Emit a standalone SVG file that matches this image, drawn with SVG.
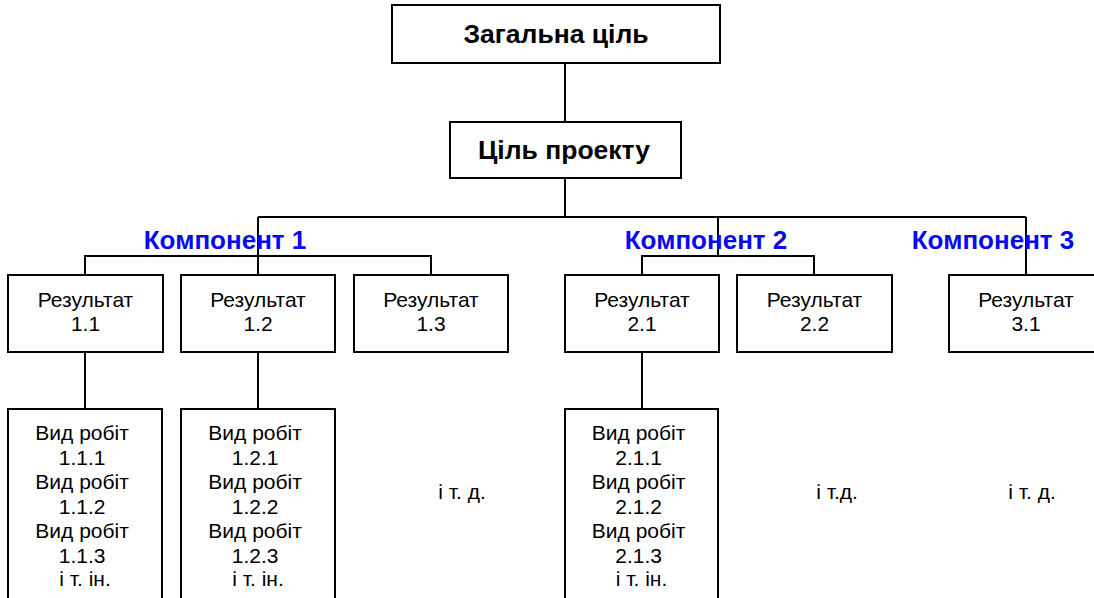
<svg xmlns="http://www.w3.org/2000/svg" width="1094" height="598" viewBox="0 0 1094 598">
  <style>
    .box { fill: #ffffff; stroke: #000000; stroke-width: 2; }
    .wire { fill: none; stroke: #000000; stroke-width: 2; }
    text { font-family: "Liberation Sans", Arial, sans-serif; fill: #000000; text-anchor: middle; }
    .head { font-size: 26.5px; font-weight: bold; }
    .comp { font-size: 26px; font-weight: bold; fill: #0A0AF0; }
    .res { font-size: 21px; }
    .etc { font-size: 21px; }
  </style>

  <!-- connectors -->
  <g id="connectors">
    <path class="wire" d="M565 63 V122"/>
    <path class="wire" d="M565 178 V217"/>
    <path class="wire" d="M258 217 H1026"/>
    <path class="wire" d="M258 217 V275"/>
    <path class="wire" d="M718 217 V256"/>
    <path class="wire" d="M1026 217 V275"/>
    <path class="wire" d="M85 275 V256 H431 V275"/>
    <path class="wire" d="M642 275 V256 H814 V275"/>
    <path class="wire" d="M85 352 V409"/>
    <path class="wire" d="M258 352 V409"/>
    <path class="wire" d="M642 352 V409"/>
  </g>

  <g id="goal">
    <rect class="box" x="392" y="5" width="328" height="58"/>
    <text class="head" x="556" y="43">Загальна ціль</text>
  </g>

  <g id="project">
    <rect class="box" x="450" y="122" width="231" height="56"/>
    <text class="head" x="564" y="159">Ціль проекту</text>
  </g>

  <!-- component labels -->
  <g id="component-1"><text class="comp" x="225" y="249">Компонент 1</text></g>
  <g id="component-2"><text class="comp" x="706" y="249">Компонент 2</text></g>
  <g id="component-3"><text class="comp" x="993" y="249">Компонент 3</text></g>

  <!-- results -->
  <g id="result-1-1">
    <rect class="box" x="8" y="275" width="155" height="77"/>
    <text class="res" x="85.5" y="307">Результат</text>
    <text class="res" x="85.5" y="331">1.1</text>
  </g>
  <g id="result-1-2">
    <rect class="box" x="181" y="275" width="154" height="77"/>
    <text class="res" x="258" y="307">Результат</text>
    <text class="res" x="258" y="331">1.2</text>
  </g>
  <g id="result-1-3">
    <rect class="box" x="354" y="275" width="154" height="77"/>
    <text class="res" x="431" y="307">Результат</text>
    <text class="res" x="431" y="331">1.3</text>
  </g>
  <g id="result-2-1">
    <rect class="box" x="565" y="275" width="154" height="77"/>
    <text class="res" x="642" y="307">Результат</text>
    <text class="res" x="642" y="331">2.1</text>
  </g>
  <g id="result-2-2">
    <rect class="box" x="737" y="275" width="155" height="77"/>
    <text class="res" x="814.5" y="307">Результат</text>
    <text class="res" x="814.5" y="331">2.2</text>
  </g>
  <g id="result-3-1">
    <rect class="box" x="949" y="275" width="155" height="77"/>
    <text class="res" x="1026" y="307">Результат</text>
    <text class="res" x="1026" y="331">3.1</text>
  </g>

  <!-- work lists -->
  <g id="works-1-1">
    <rect class="box" x="8" y="409" width="154" height="210"/>
    <text class="res" x="85">
      <tspan x="85" y="440">Вид робіт</tspan>
      <tspan x="85" y="464.5">1.1.1</tspan>
      <tspan x="85" y="489">Вид робіт</tspan>
      <tspan x="85" y="513.5">1.1.2</tspan>
      <tspan x="85" y="538">Вид робіт</tspan>
      <tspan x="85" y="562.5">1.1.3</tspan>
      <tspan x="85" y="586">і т. ін.</tspan>
    </text>
  </g>
  <g id="works-1-2">
    <rect class="box" x="181" y="409" width="154" height="210"/>
    <text class="res" x="258">
      <tspan x="258" y="440">Вид робіт</tspan>
      <tspan x="258" y="464.5">1.2.1</tspan>
      <tspan x="258" y="489">Вид робіт</tspan>
      <tspan x="258" y="513.5">1.2.2</tspan>
      <tspan x="258" y="538">Вид робіт</tspan>
      <tspan x="258" y="562.5">1.2.3</tspan>
      <tspan x="258" y="586">і т. ін.</tspan>
    </text>
  </g>
  <g id="works-2-1">
    <rect class="box" x="565" y="409" width="153" height="210"/>
    <text class="res" x="641.5">
      <tspan x="641.5" y="440">Вид робіт</tspan>
      <tspan x="641.5" y="464.5">2.1.1</tspan>
      <tspan x="641.5" y="489">Вид робіт</tspan>
      <tspan x="641.5" y="513.5">2.1.2</tspan>
      <tspan x="641.5" y="538">Вид робіт</tspan>
      <tspan x="641.5" y="562.5">2.1.3</tspan>
      <tspan x="641.5" y="586">і т. ін.</tspan>
    </text>
  </g>

  <g id="etc-1-3"><text class="etc" x="462" y="499">і т. д.</text></g>
  <g id="etc-2-2"><text class="etc" x="837" y="499">і т.д.</text></g>
  <g id="etc-3-1"><text class="etc" x="1032" y="499">і т. д.</text></g>
</svg>
